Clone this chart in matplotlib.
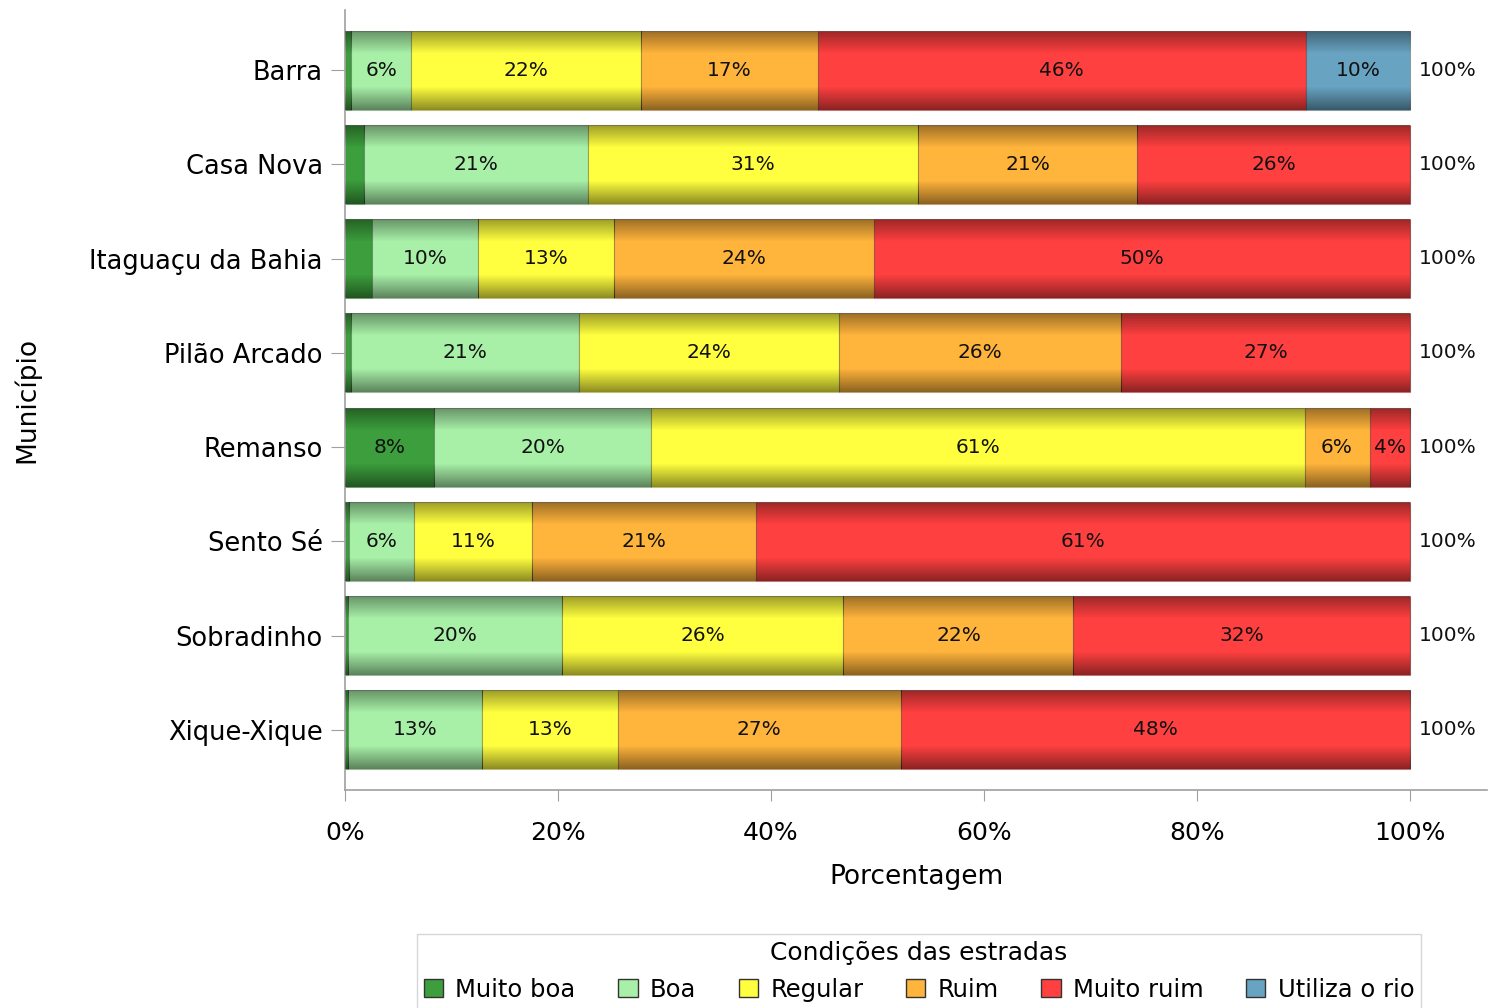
import matplotlib
matplotlib.use("Agg")
import matplotlib.pyplot as plt
import matplotlib.colors as mcolors
from matplotlib.patches import Patch
import numpy as np

plt.rcParams['font.family'] = ['DejaVu Sans']

municipios = ['Barra', 'Casa Nova', 'Itaguaçu da Bahia', 'Pilão Arcado',
              'Remanso', 'Sento Sé', 'Sobradinho', 'Xique-Xique']
categorias = ['Muito boa', 'Boa', 'Regular', 'Ruim', 'Muito ruim', 'Utiliza o rio']

# porcentagens por município (mesma ordem de municipios)
muito_boa = [0.6, 1.8, 2.5, 0.6, 8.4, 0.4, 0.3, 0.3]
boa = [5.6, 21.0, 10.0, 21.4, 20.3, 6.1, 20.1, 12.6]
regular = [21.6, 31.0, 12.8, 24.4, 61.4, 11.1, 26.4, 12.7]
ruim = [16.6, 20.6, 24.4, 26.5, 6.1, 21.0, 21.6, 26.6]
muito_ruim = [45.8, 25.6, 50.3, 27.1, 3.8, 61.4, 31.6, 47.8]
utiliza_rio = [9.8, 0, 0, 0, 0, 0, 0, 0]

series = [muito_boa, boa, regular, ruim, muito_ruim, utiliza_rio]
cores = ['#3c9e3c', '#a8f0a8', '#ffff40', '#ffb43c', '#ff4040', '#68a4c2']

fig = plt.figure(figsize=(14.89, 10.08), dpi=100)
ax = fig.add_axes([345 / 1489, 1 - 790 / 1008, (1487 - 345) / 1489, 780 / 1008])

y = np.arange(len(municipios))
h = 0.84

# gradiente escuro nas bordas, estilo SAS
perfil = np.concatenate([np.linspace(0.4, 0.0, 30), np.zeros(40), np.linspace(0.0, 0.45, 30)])
grad = np.zeros((100, 2, 4))
grad[..., 3] = perfil[:, None]

esquerda = np.zeros(len(municipios))
for vals, cor, nome in zip(series, cores, categorias):
    vals = np.array(vals)
    bars = ax.barh(y, vals, left=esquerda, height=h, color=cor,
                   edgecolor=mcolors.to_rgba('#000000', 0.25), linewidth=0.8, zorder=2)
    for b, v in zip(bars, vals):
        if v <= 0:
            continue
        x0, y0 = b.get_x(), b.get_y()
        im = ax.imshow(grad, extent=(x0, x0 + b.get_width(), y0 + h, y0),
                       aspect='auto', zorder=3, interpolation='bilinear')
        im.set_clip_path(b)
        if v >= 3:
            ax.text(x0 + v / 2, b.get_y() + h / 2, '%.0f%%' % v, ha='center', va='center',
                    fontsize=14.5, color='#111111', zorder=4)
    esquerda += vals

for yi, tot in zip(y, esquerda):
    ax.text(100.8, yi, '%.0f%%' % tot, ha='left', va='center',
            fontsize=14.5, color='#111111')

ax.set_xlim(0, (1487 - 345) / 1065 * 100)
ax.set_ylim(len(municipios) - 0.36, -0.64)
ax.set_yticks(y)
ax.set_yticklabels(municipios, fontsize=18.5)
ax.set_xticks([0, 20, 40, 60, 80, 100])
ax.set_xticklabels(['0%', '20%', '40%', '60%', '80%', '100%'], fontsize=18)
ax.set_xlabel('Porcentagem', fontsize=19, labelpad=14)
ax.set_ylabel('Município', fontsize=19)
ax.yaxis.set_label_coords(-(345 - 40) / 1142, 0.5)

for s in ['top', 'right']:
    ax.spines[s].set_visible(False)
for s in ['left', 'bottom']:
    ax.spines[s].set_color('#a0a0a0')
    ax.spines[s].set_linewidth(1.2)
ax.tick_params(axis='y', length=10, color='#a0a0a0', pad=6)
ax.tick_params(axis='x', length=8, color='#a0a0a0', pad=14)

handles = [Patch(facecolor=c, edgecolor='#333333', linewidth=1) for c in cores]
leg = fig.legend(handles, categorias, title='Condições das estradas', ncol=6,
                 loc='upper center', bbox_to_anchor=(919 / 1489, 1 - 922 / 1008),
                 fontsize=17.5, title_fontsize=18, frameon=True, fancybox=False,
                 edgecolor='#cccccc', handlelength=0.8, handleheight=0.8,
                 handletextpad=0.5, columnspacing=1.75, borderpad=0.3, labelspacing=0.5)

fig.savefig('out.png', dpi=100)
